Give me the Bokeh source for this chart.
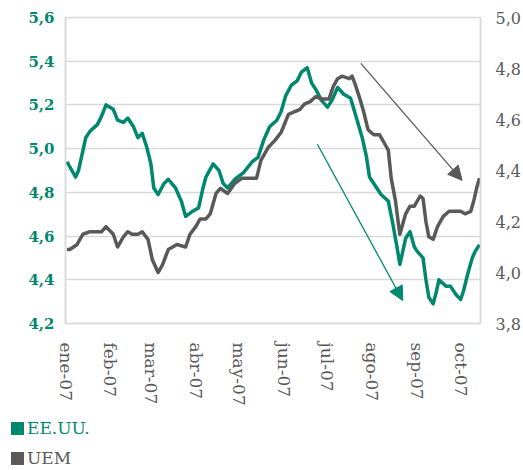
from bokeh.plotting import figure
from bokeh.models import (Range1d, LinearAxis, FixedTicker, CustomJSTickFormatter,
                          Arrow, NormalHead, Div)
from bokeh.layouts import column
from bokeh.embed import file_html
from bokeh.resources import INLINE

# ---- data (days since 1 Jan 2007, yields in %) ----
us_days = [1, 7, 9, 14, 17, 22, 25, 28, 33, 36, 40, 43, 47, 50, 53, 56, 59, 61, 64, 68,
           71, 76, 80, 83, 87, 92, 95, 97, 102, 106, 109, 112, 117, 123, 129, 133, 137, 141,
           146, 149, 152, 156, 160, 163, 167, 170, 173, 177, 181, 184, 188, 192, 197, 201,
           205, 208, 210, 215, 218, 223, 226, 229, 231, 233, 235, 238, 241, 243, 247, 249,
           251, 254, 256, 258, 263, 266, 270, 273, 275, 278, 281, 283, 286]
us_vals = [4.94, 4.87, 4.90, 5.05, 5.08, 5.11, 5.15, 5.20, 5.18, 5.13, 5.12, 5.14, 5.10,
           5.05, 5.07, 5.01, 4.93, 4.82, 4.79, 4.84, 4.86, 4.82, 4.76, 4.69, 4.71, 4.73,
           4.82, 4.87, 4.93, 4.90, 4.84, 4.82, 4.86, 4.89, 4.94, 4.96, 5.04, 5.10, 5.13,
           5.17, 5.24, 5.29, 5.31, 5.35, 5.37, 5.30, 5.27, 5.22, 5.19, 5.22, 5.28, 5.25,
           5.23, 5.14, 5.05, 4.96, 4.87, 4.82, 4.79, 4.76, 4.66, 4.55, 4.47, 4.53, 4.59,
           4.62, 4.55, 4.53, 4.50, 4.40, 4.32, 4.29, 4.34, 4.40, 4.37, 4.37, 4.33, 4.31,
           4.35, 4.43, 4.50, 4.53, 4.56]

uem_days = [1, 3, 8, 12, 17, 25, 28, 33, 36, 40, 43, 46, 50, 53, 57, 60, 64, 67, 71, 74,
            77, 83, 86, 90, 93, 97, 100, 104, 107, 112, 117, 122, 126, 132, 135, 140, 145,
            149, 154, 158, 162, 165, 169, 173, 177, 182, 185, 188, 191, 196, 198, 200, 204,
            206, 209, 213, 217, 221, 223, 225, 228, 230, 231, 233, 235, 238, 241, 245, 247,
            249, 251, 254, 257, 261, 265, 273, 276, 280, 282, 284, 286]
uem_vals = [4.09, 4.09, 4.11, 4.15, 4.16, 4.16, 4.18, 4.15, 4.10, 4.14, 4.16, 4.15, 4.15,
            4.16, 4.13, 4.05, 4.00, 4.03, 4.09, 4.10, 4.11, 4.10, 4.15, 4.18, 4.21, 4.21,
            4.23, 4.31, 4.33, 4.31, 4.35, 4.37, 4.37, 4.37, 4.44, 4.49, 4.52, 4.55, 4.62,
            4.63, 4.64, 4.66, 4.67, 4.69, 4.68, 4.68, 4.73, 4.76, 4.77, 4.76, 4.77, 4.74,
            4.67, 4.63, 4.56, 4.54, 4.54, 4.50, 4.48, 4.37, 4.28, 4.19, 4.15, 4.19, 4.23,
            4.26, 4.26, 4.30, 4.29, 4.20, 4.14, 4.13, 4.18, 4.22, 4.24, 4.24, 4.23, 4.24,
            4.28, 4.33, 4.37]

month_ticks = [0, 31, 59, 90, 120, 151, 181, 212, 243, 273]
month_labels = ["ene-07", "feb-07", "mar-07", "abr-07", "may-07", "jun-07",
                "jul-07", "ago-07", "sep-07", "oct-07"]
left_ticks = [4.2, 4.4, 4.6, 4.8, 5.0, 5.2, 5.4, 5.6]
right_ticks = [3.8, 4.0, 4.2, 4.4, 4.6, 4.8, 5.0]
series_names = ["EE.UU.", "UEM"]

# arrows (day, left-axis value)
arrow_gray = [204, 5.39, 274, 4.855]
arrow_teal = [174, 5.02, 233, 4.305]

TEAL = "#00876F"
GRAY = "#595959"
GRID = "#D9D9D9"
FONT = "DejaVu Serif"

p = figure(width=523, height=410, output_backend="svg", toolbar_location=None,
           x_range=Range1d(0, 286.7), y_range=Range1d(4.2, 5.6),
           min_border_left=65, min_border_right=38, min_border_top=17, min_border_bottom=87)
p.extra_y_ranges = {"uem": Range1d(3.8, 5.0)}
p.outline_line_color = GRID
p.outline_line_width = 1.5
p.background_fill_color = "white"
p.border_fill_color = "white"

fmt = CustomJSTickFormatter(code="return tick.toFixed(1).replace('.', ',');")

# left axis
yax = p.yaxis[0]
yax.ticker = FixedTicker(ticks=left_ticks)
yax.formatter = fmt
yax.major_label_text_color = TEAL
yax.major_label_text_font = FONT
yax.major_label_text_font_style = "bold"
yax.major_label_text_font_size = "15px"
yax.axis_line_color = GRID
yax.axis_line_width = 1.5
yax.major_tick_line_color = None
yax.minor_tick_line_color = None
yax.major_label_standoff = 5

# right axis
rax = LinearAxis(y_range_name="uem", ticker=FixedTicker(ticks=right_ticks), formatter=fmt)
rax.major_label_text_color = GRAY
rax.major_label_text_font = FONT
rax.major_label_text_font_size = "16px"
rax.axis_line_color = GRID
rax.axis_line_width = 1.5
rax.major_tick_line_color = None
rax.minor_tick_line_color = None
rax.major_label_standoff = 9
p.add_layout(rax, "right")

# x axis
xax = p.xaxis[0]
xax.ticker = FixedTicker(ticks=month_ticks)
xax.formatter = CustomJSTickFormatter(args=dict(mticks=month_ticks, mlabels=month_labels),
                                      code="const i = mticks.indexOf(tick); return i >= 0 ? mlabels[i] : '';")
xax.major_label_orientation = "vertical"
xax.major_label_text_color = GRAY
xax.major_label_text_font = FONT
xax.major_label_text_font_size = "17px"
xax.axis_line_color = GRID
xax.axis_line_width = 1.5
xax.major_tick_line_color = None
xax.minor_tick_line_color = None
xax.major_label_standoff = 13

p.xgrid.visible = False
p.ygrid.ticker = FixedTicker(ticks=left_ticks)
p.ygrid.grid_line_color = GRID
p.ygrid.grid_line_width = 1.5

p.line(us_days, us_vals, line_color=TEAL, line_width=3.5, line_join="round")
p.line(uem_days, uem_vals, line_color=GRAY, line_width=3.5, line_join="round", y_range_name="uem")

p.add_layout(Arrow(end=NormalHead(size=14, fill_color=GRAY, line_color=GRAY),
                   x_start=arrow_gray[0], y_start=arrow_gray[1], x_end=arrow_gray[2], y_end=arrow_gray[3],
                   line_color=GRAY, line_width=1.3))
p.add_layout(Arrow(end=NormalHead(size=14, fill_color=TEAL, line_color=TEAL),
                   x_start=arrow_teal[0], y_start=arrow_teal[1], x_end=arrow_teal[2], y_end=arrow_teal[3],
                   line_color=TEAL, line_width=1.3))

# ---- legend below the chart ----
rows = ""
for name, col in zip(series_names, [TEAL, GRAY]):
    rows += ('<div style="display:flex;align-items:center;height:30px;color:%s;">'
             '<span style="display:inline-block;width:13px;height:13px;background:%s;'
             'margin-right:3px;"></span><span>%s</span></div>') % (col, col, name)
legend_div = Div(text=('<div style="font-family:\'%s\';font-size:17px;line-height:30px;'
                       'padding-left:11px;padding-top:3px;">%s</div>') % (FONT, rows),
                 width=523, height=60, margin=0)

open("out.html", "w").write(file_html(column(p, legend_div, spacing=0), INLINE))
